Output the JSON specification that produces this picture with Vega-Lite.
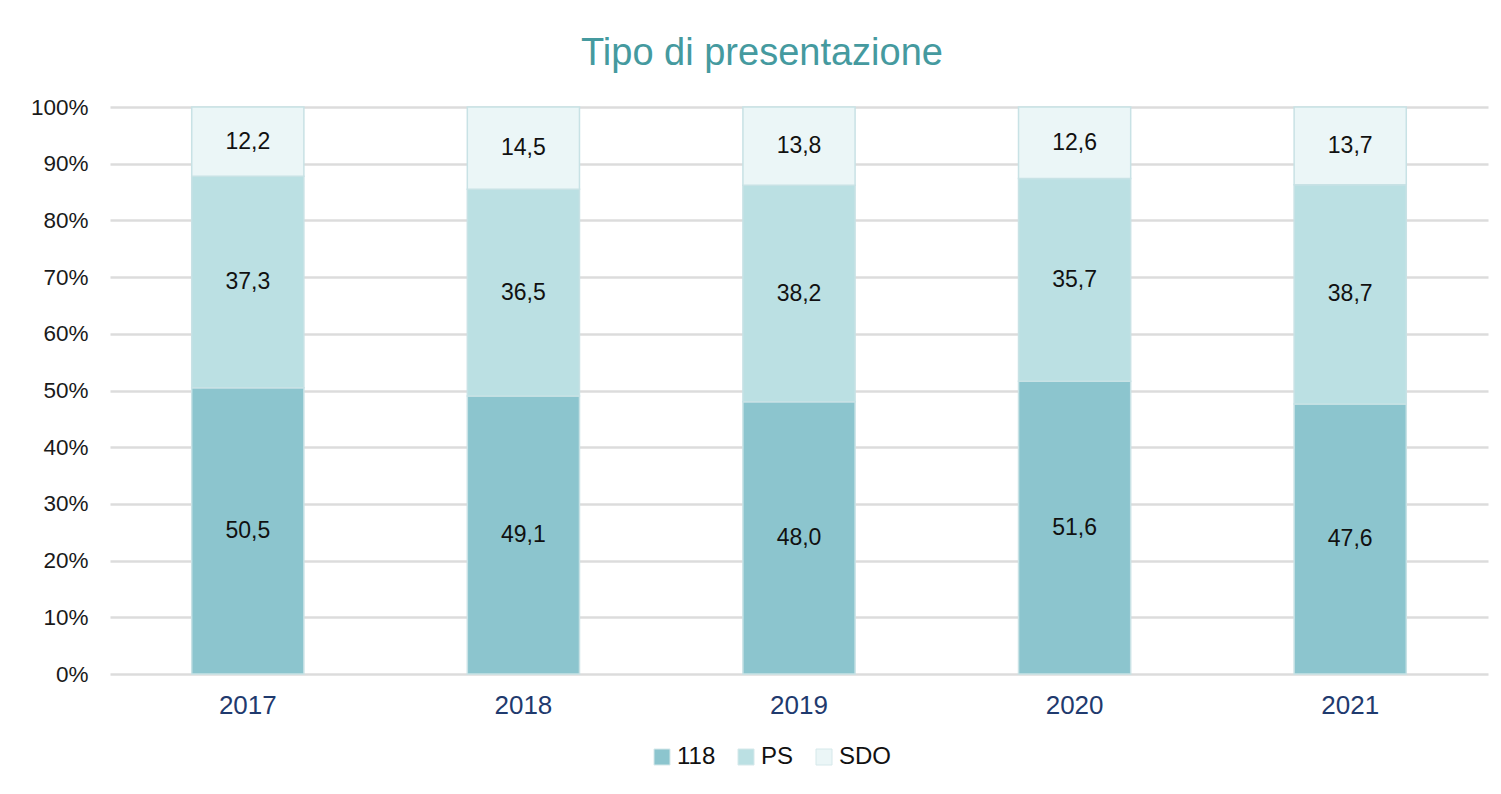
{
  "$schema": "https://vega.github.io/schema/vega-lite/v6.json",
  "width": 1378,
  "height": 567,
  "autosize": {"type": "none"},
  "padding": {"left": 110, "top": 107, "right": 13, "bottom": 120},
  "background": "white",
  "title": {
    "text": "Tipo di presentazione",
    "anchor": "middle",
    "dx": -37,
    "offset": 23,
    "font": "Liberation Sans",
    "fontSize": 38,
    "fontWeight": "normal",
    "color": "#459A9F"
  },
  "data": {
    "values": [
      {"anno": "2017", "tipo": "118", "valore": 50.5},
      {"anno": "2017", "tipo": "PS", "valore": 37.3},
      {"anno": "2017", "tipo": "SDO", "valore": 12.2},
      {"anno": "2018", "tipo": "118", "valore": 49.1},
      {"anno": "2018", "tipo": "PS", "valore": 36.5},
      {"anno": "2018", "tipo": "SDO", "valore": 14.5},
      {"anno": "2019", "tipo": "118", "valore": 48.0},
      {"anno": "2019", "tipo": "PS", "valore": 38.2},
      {"anno": "2019", "tipo": "SDO", "valore": 13.8},
      {"anno": "2020", "tipo": "118", "valore": 51.6},
      {"anno": "2020", "tipo": "PS", "valore": 35.7},
      {"anno": "2020", "tipo": "SDO", "valore": 12.6},
      {"anno": "2021", "tipo": "118", "valore": 47.6},
      {"anno": "2021", "tipo": "PS", "valore": 38.7},
      {"anno": "2021", "tipo": "SDO", "valore": 13.7}
    ]
  },
  "encoding": {
    "x": {
      "field": "anno",
      "type": "nominal",
      "scale": {"paddingInner": 0.593, "paddingOuter": 0.2965},
      "axis": {
        "title": null,
        "labelAngle": 0,
        "labelFont": "Liberation Sans",
        "labelFontSize": 26,
        "labelColor": "#1F3A6E",
        "labelPadding": 18,
        "ticks": false,
        "domain": false
      }
    }
  },
  "layer": [
    {
      "mark": {"type": "bar", "stroke": "#C8E2E5", "strokeWidth": 1.5},
      "encoding": {
        "y": {
          "field": "valore",
          "type": "quantitative",
          "stack": "normalize",
          "scale": {"domain": [0, 1]},
          "axis": {
            "title": null,
            "format": ".0%",
            "values": [0, 0.1, 0.2, 0.3, 0.4, 0.5, 0.6, 0.7, 0.8, 0.9, 1],
            "labelFont": "Liberation Sans",
            "labelFontSize": 22.5,
            "labelColor": "#1A1A1A",
            "labelPadding": 22,
            "ticks": false,
            "domain": false,
            "grid": true,
            "gridColor": "#DCDCDC",
            "gridWidth": 2.5
          }
        },
        "color": {
          "field": "tipo",
          "type": "nominal",
          "scale": {"domain": ["118", "PS", "SDO"], "range": ["#8CC5CE", "#BBE0E3", "#EBF6F7"]},
          "legend": {
            "title": null,
            "orient": "none",
            "direction": "horizontal",
            "legendX": 540,
            "legendY": 638,
            "symbolType": "square",
            "symbolSize": 256,
            "symbolStrokeWidth": 1,
            "symbolStrokeColor": "#D5E8EA",
            "labelFont": "Liberation Sans",
            "labelFontSize": 24,
            "labelColor": "#111111",
            "labelOffset": 3,
            "columnPadding": 18
          }
        },
        "order": {"field": "tipo", "type": "nominal", "sort": "ascending"}
      }
    },
    {
      "mark": {"type": "text", "font": "Liberation Sans", "fontSize": 23, "color": "#111111", "baseline": "middle"},
      "encoding": {
        "y": {"field": "valore", "type": "quantitative", "stack": "normalize", "bandPosition": 0.5},
        "detail": {"field": "tipo", "type": "nominal"},
        "order": {"field": "tipo", "type": "nominal", "sort": "ascending"},
        "text": {"field": "valore", "type": "quantitative", "format": ".1f"}
      }
    }
  ],
  "config": {
    "view": {"stroke": null},
    "locale": {
      "number": {"decimal": ",", "thousands": ".", "grouping": [3], "currency": ["€", ""]}
    }
  }
}
